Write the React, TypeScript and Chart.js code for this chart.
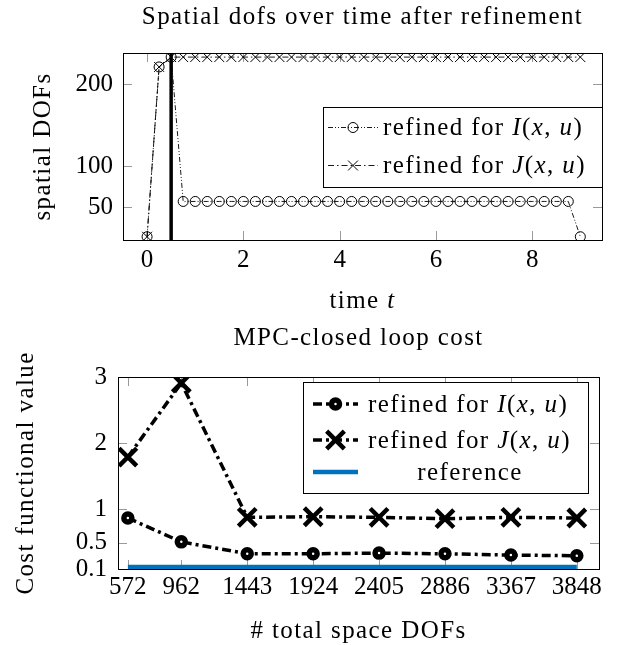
import React, { useEffect, useRef } from 'react';
import { Chart, registerables } from 'chart.js';
Chart.register(...registerables);

// ---------- data: top chart ----------
const timeValues = [
  0, 0.25, 0.5, 0.75, 1, 1.25, 1.5, 1.75, 2, 2.25, 2.5, 2.75, 3, 3.25, 3.5, 3.75,
  4, 4.25, 4.5, 4.75, 5, 5.25, 5.5, 5.75, 6, 6.25, 6.5, 6.75, 7, 7.25, 7.5, 7.75,
  8, 8.25, 8.5, 8.75, 9,
];
const dofsRefinedI = [
  14, 221, 233, 57, 57, 57, 57, 57, 57, 57, 57, 57, 57, 57, 57, 57,
  57, 57, 57, 57, 57, 57, 57, 57, 57, 57, 57, 57, 57, 57, 57, 57,
  57, 57, 57, 57, 14,
];
const dofsRefinedJ = [
  14, 221, 233, 233, 233, 233, 233, 233, 233, 233, 233, 233, 233, 233, 233, 233,
  233, 233, 233, 233, 233, 233, 233, 233, 233, 233, 233, 233, 233, 233, 233, 233,
  233, 233, 233, 233, 233,
];
const refinementTime = 0.5;
const dofsAxisRange = [10, 238];
const timeAxisRange = [-0.5, 9.45];
const timeTicks = [0, 2, 4, 6, 8];
const dofsTicks = [50, 100, 200];

// ---------- data: bottom chart ----------
const totalDofs = [572, 962, 1443, 1924, 2405, 2886, 3367, 3848];
const costRefinedI = [0.87, 0.51, 0.33, 0.33, 0.34, 0.33, 0.31, 0.30];
const costRefinedJ = [1.79, 2.91, 0.88, 0.89, 0.88, 0.86, 0.88, 0.87];
const costReference = [0.13, 0.13, 0.13, 0.13, 0.13, 0.13, 0.13, 0.13];
const costTicks = [0.1, 0.5, 1, 2, 3];
const costAxisRange = [0.1, 3];
const dofsXAxisRange = [500, 4010];

// ---------- text helpers ----------
const FAMILY = "'Liberation Serif', 'Times New Roman', serif";
const FS = 25;
const SPACING = '1.4px';
type Seg = { t: string; i?: boolean };

function fontOf(italic?: boolean) {
  return `${italic ? 'italic ' : ''}${FS}px ${FAMILY}`;
}

function segWidth(ctx: CanvasRenderingContext2D, segs: Seg[]) {
  let w = 0;
  for (const s of segs) {
    ctx.font = fontOf(s.i);
    (ctx as any).letterSpacing = SPACING;
    w += ctx.measureText(s.t).width;
  }
  return w;
}

function drawSegs(
  ctx: CanvasRenderingContext2D,
  segs: Seg[],
  x: number,
  y: number,
  align: 'left' | 'center',
  rotate = false
) {
  ctx.save();
  ctx.translate(x, y);
  if (rotate) ctx.rotate(-Math.PI / 2);
  const w = segWidth(ctx, segs);
  let cx = align === 'center' ? -w / 2 : 0;
  ctx.fillStyle = '#000';
  ctx.textAlign = 'left';
  ctx.textBaseline = 'alphabetic';
  for (const s of segs) {
    ctx.font = fontOf(s.i);
    (ctx as any).letterSpacing = SPACING;
    ctx.fillText(s.t, cx, 0);
    cx += ctx.measureText(s.t).width;
  }
  ctx.restore();
}

function drawMarker(
  ctx: CanvasRenderingContext2D,
  style: string,
  x: number,
  y: number,
  r: number,
  lw: number,
  fill?: string
) {
  ctx.save();
  ctx.setLineDash([]);
  ctx.lineWidth = lw;
  ctx.strokeStyle = '#000';
  if (style === 'circle') {
    ctx.beginPath();
    ctx.arc(x, y, r, 0, Math.PI * 2);
    if (fill) {
      ctx.fillStyle = fill;
      ctx.fill();
    }
    ctx.stroke();
  } else {
    const d = r * Math.SQRT1_2;
    ctx.beginPath();
    ctx.moveTo(x - d, y - d);
    ctx.lineTo(x + d, y + d);
    ctx.moveTo(x + d, y - d);
    ctx.lineTo(x - d, y + d);
    ctx.stroke();
  }
  ctx.restore();
}

function drawAxisTicks(chart: any, len: number) {
  const { ctx, chartArea } = chart;
  const xs = chart.scales.x;
  const ys = chart.scales.y;
  ctx.save();
  ctx.strokeStyle = '#9a9a9a';
  ctx.lineWidth = 1;
  ctx.setLineDash([]);
  ctx.beginPath();
  for (const t of xs.ticks) {
    const p = Math.round(xs.getPixelForValue(t.value)) + 0.5;
    ctx.moveTo(p, chartArea.bottom);
    ctx.lineTo(p, chartArea.bottom - len);
    ctx.moveTo(p, chartArea.top);
    ctx.lineTo(p, chartArea.top + len);
  }
  for (const t of ys.ticks) {
    const p = Math.round(ys.getPixelForValue(t.value)) + 0.5;
    ctx.moveTo(chartArea.left, p);
    ctx.lineTo(chartArea.left + len, p);
    ctx.moveTo(chartArea.right, p);
    ctx.lineTo(chartArea.right - len, p);
  }
  ctx.stroke();
  ctx.restore();
}

function drawFrame(chart: any) {
  const { ctx, chartArea } = chart;
  ctx.save();
  ctx.strokeStyle = '#000';
  ctx.lineWidth = 1;
  ctx.setLineDash([]);
  ctx.strokeRect(
    Math.round(chartArea.left) + 0.5,
    Math.round(chartArea.top) + 0.5,
    Math.round(chartArea.right - chartArea.left),
    Math.round(chartArea.bottom - chartArea.top)
  );
  ctx.restore();
}

const labelI: Seg[] = [
  { t: 'refined for ' },
  { t: 'I', i: true },
  { t: '(' },
  { t: 'x', i: true },
  { t: ', ' },
  { t: 'u', i: true },
  { t: ')' },
];
const labelJ: Seg[] = [
  { t: 'refined for ' },
  { t: 'J', i: true },
  { t: '(' },
  { t: 'x', i: true },
  { t: ', ' },
  { t: 'u', i: true },
  { t: ')' },
];

const tickFont = { family: FAMILY, size: FS };

// ---------- top chart ----------
function TopChart() {
  const ref = useRef<HTMLCanvasElement | null>(null);
  useEffect(() => {
    if (!ref.current) return;
    const deco = {
      id: 'decoTop',
      beforeDatasetsDraw(chart: any) {
        drawAxisTicks(chart, 9);
      },
      afterDatasetsDraw(chart: any) {
        const { ctx, chartArea } = chart;
        drawFrame(chart);
        // legend
        const bx = 323, by = 107, br = chartArea.right, bb = 187;
        ctx.save();
        ctx.fillStyle = '#fff';
        ctx.fillRect(bx, by, br - bx, bb - by);
        ctx.strokeStyle = '#000';
        ctx.lineWidth = 1;
        ctx.strokeRect(bx + 0.5, by + 0.5, br - bx, bb - by);
        const rows = [
          { y: 127, ds: chart.data.datasets[0], segs: labelI },
          { y: 165, ds: chart.data.datasets[1], segs: labelJ },
        ];
        for (const r of rows) {
          ctx.save();
          ctx.strokeStyle = '#000';
          ctx.lineWidth = r.ds.borderWidth;
          ctx.setLineDash(r.ds.borderDash);
          ctx.beginPath();
          ctx.moveTo(328, r.y + 0.5);
          ctx.lineTo(378, r.y + 0.5);
          ctx.stroke();
          ctx.restore();
          drawMarker(ctx, r.ds.pointStyle, 353, r.y + 0.5, r.ds.pointRadius, r.ds.pointBorderWidth);
          drawSegs(ctx, r.segs, 383, r.y + 8, 'left');
        }
        ctx.restore();
        const cx = (chartArea.left + chartArea.right) / 2;
        drawSegs(ctx, [{ t: 'Spatial dofs over time after refinement' }], cx, 24, 'center');
        drawSegs(ctx, [{ t: 'time ' }, { t: 't', i: true }], cx, 308, 'center');
        drawSegs(ctx, [{ t: 'spatial DOFs' }], 50, (chartArea.top + chartArea.bottom) / 2, 'center', true);
      },
    };
    const chart = new Chart(ref.current, {
      type: 'line',
      data: {
        datasets: [
          {
            label: 'refined for I(x,u)',
            data: timeValues.map((t, k) => ({ x: t, y: dofsRefinedI[k] })),
            borderColor: '#000',
            borderWidth: 0.9,
            borderDash: [5, 2, 1, 2, 1, 2],
            pointStyle: 'circle',
            pointRadius: 5,
            pointBorderWidth: 1,
            pointBorderColor: '#000',
            pointBackgroundColor: 'rgba(0,0,0,0)',
            tension: 0,
          },
          {
            label: 'refined for J(x,u)',
            data: timeValues.map((t, k) => ({ x: t, y: dofsRefinedJ[k] })),
            borderColor: '#000',
            borderWidth: 0.9,
            borderDash: [6, 3, 1.5, 3],
            pointStyle: 'crossRot',
            pointRadius: 7,
            pointBorderWidth: 1,
            pointBorderColor: '#000',
            pointBackgroundColor: 'rgba(0,0,0,0)',
            tension: 0,
          },
          {
            label: 'refinement',
            data: [
              { x: refinementTime, y: dofsAxisRange[0] },
              { x: refinementTime, y: dofsAxisRange[1] },
            ],
            borderColor: '#000',
            borderWidth: 3.5,
            pointRadius: 0,
          },
        ],
      },
      options: {
        responsive: false,
        animation: false,
        layout: { padding: { top: 53, right: 16, left: 0, bottom: 0 } },
        plugins: { legend: { display: false }, tooltip: { enabled: false } },
        scales: {
          x: {
            type: 'linear',
            min: timeAxisRange[0],
            max: timeAxisRange[1],
            afterBuildTicks: (s: any) => {
              s.ticks = timeTicks.map((v) => ({ value: v }));
            },
            afterFit: (s: any) => {
              s.height = 80;
            },
            grid: { display: false, drawTicks: false },
            border: { display: false },
            ticks: { font: tickFont, color: '#000', padding: 5, maxRotation: 0, callback: (v: any) => String(v) },
          },
          y: {
            type: 'linear',
            min: dofsAxisRange[0],
            max: dofsAxisRange[1],
            afterBuildTicks: (s: any) => {
              s.ticks = dofsTicks.map((v) => ({ value: v }));
            },
            afterFit: (s: any) => {
              s.width = 123;
            },
            grid: { display: false, drawTicks: false },
            border: { display: false },
            ticks: { font: tickFont, color: '#000', padding: 10, callback: (v: any) => String(v) },
          },
        },
      },
      plugins: [deco],
    } as any);
    return () => chart.destroy();
  }, []);
  return (
    <div style={{ position: 'absolute', left: 0, top: 0, width: 618, height: 320 }}>
      <canvas ref={ref} width={618} height={320} />
    </div>
  );
}

// ---------- bottom chart ----------
function BottomChart() {
  const ref = useRef<HTMLCanvasElement | null>(null);
  useEffect(() => {
    if (!ref.current) return;
    const deco = {
      id: 'decoBottom',
      beforeDatasetsDraw(chart: any) {
        drawAxisTicks(chart, 9);
      },
      afterDatasetsDraw(chart: any) {
        const { ctx, chartArea } = chart;
        drawFrame(chart);
        const bx = 303, by = 62, br = 588, bb = 173;
        ctx.save();
        ctx.fillStyle = '#fff';
        ctx.fillRect(bx, by, br - bx, bb - by);
        ctx.strokeStyle = '#000';
        ctx.lineWidth = 1;
        ctx.strokeRect(bx + 0.5, by + 0.5, br - bx, bb - by);
        const rows = [
          { y: 84, ds: chart.data.datasets[0], segs: labelI },
          { y: 120, ds: chart.data.datasets[1], segs: labelJ },
        ];
        for (const r of rows) {
          ctx.save();
          ctx.strokeStyle = '#000';
          ctx.lineWidth = r.ds.borderWidth;
          ctx.setLineDash(r.ds.borderDash);
          ctx.beginPath();
          ctx.moveTo(313, r.y);
          ctx.lineTo(358, r.y);
          ctx.stroke();
          ctx.restore();
          drawMarker(ctx, r.ds.pointStyle, 335.5, r.y, r.ds.pointRadius, r.ds.pointBorderWidth, r.ds.pointBackgroundColor);
          drawSegs(ctx, r.segs, 368, r.y + 8, 'left');
        }
        const refDs = chart.data.datasets[2];
        ctx.save();
        ctx.strokeStyle = refDs.borderColor;
        ctx.lineWidth = refDs.borderWidth;
        ctx.beginPath();
        ctx.moveTo(313, 152);
        ctx.lineTo(358, 152);
        ctx.stroke();
        ctx.restore();
        drawSegs(ctx, [{ t: 'reference' }], 470, 160, 'center');
        ctx.restore();
        const cx = (chartArea.left + chartArea.right) / 2;
        drawSegs(ctx, [{ t: 'MPC-closed loop cost' }], cx, 25, 'center');
        drawSegs(ctx, [{ t: '# total space DOFs' }], cx, 318, 'center');
        drawSegs(ctx, [{ t: 'Cost functional value' }], 33, (chartArea.top + chartArea.bottom) / 2, 'center', true);
      },
    };
    const chart = new Chart(ref.current, {
      type: 'line',
      data: {
        datasets: [
          {
            label: 'refined for I(x,u)',
            data: totalDofs.map((d, k) => ({ x: d, y: costRefinedI[k] })),
            borderColor: '#000',
            borderWidth: 3.5,
            borderDash: [9, 4, 3, 4],
            pointStyle: 'circle',
            pointRadius: 4,
            pointBorderWidth: 5.5,
            pointBorderColor: '#000',
            pointBackgroundColor: '#fff',
            tension: 0,
          },
          {
            label: 'refined for J(x,u)',
            data: totalDofs.map((d, k) => ({ x: d, y: costRefinedJ[k] })),
            borderColor: '#000',
            borderWidth: 3.5,
            borderDash: [9, 4, 3, 4],
            pointStyle: 'crossRot',
            pointRadius: 12.5,
            pointBorderWidth: 4.5,
            pointBorderColor: '#000',
            pointBackgroundColor: '#fff',
            tension: 0,
          },
          {
            label: 'reference',
            data: totalDofs.map((d, k) => ({ x: d, y: costReference[k] })),
            borderColor: '#0072BD',
            borderWidth: 4.5,
            pointRadius: 0,
            tension: 0,
          },
        ],
      },
      options: {
        responsive: false,
        animation: false,
        layout: { padding: { top: 57, right: 19, left: 0, bottom: 0 } },
        plugins: { legend: { display: false }, tooltip: { enabled: false } },
        scales: {
          x: {
            type: 'linear',
            min: dofsXAxisRange[0],
            max: dofsXAxisRange[1],
            afterBuildTicks: (s: any) => {
              s.ticks = totalDofs.map((v) => ({ value: v }));
            },
            afterFit: (s: any) => {
              s.height = 76;
            },
            grid: { display: false, drawTicks: false },
            border: { display: false },
            ticks: { font: tickFont, color: '#000', padding: 3, maxRotation: 0, autoSkip: false, callback: (v: any) => String(v) },
          },
          y: {
            type: 'linear',
            min: costAxisRange[0],
            max: costAxisRange[1],
            afterBuildTicks: (s: any) => {
              s.ticks = costTicks.map((v) => ({ value: v }));
            },
            afterFit: (s: any) => {
              s.width = 118;
            },
            grid: { display: false, drawTicks: false },
            border: { display: false },
            ticks: { font: tickFont, color: '#000', padding: 11, callback: (v: any) => String(v) },
          },
        },
      },
      plugins: [deco],
    } as any);
    return () => chart.destroy();
  }, []);
  return (
    <div style={{ position: 'absolute', left: 0, top: 320, width: 618, height: 325 }}>
      <canvas ref={ref} width={618} height={325} />
    </div>
  );
}

export default function App() {
  return (
    <div style={{ position: 'absolute', left: 0, top: 0, width: 618, height: 645, background: '#fff' }}>
      <TopChart />
      <BottomChart />
    </div>
  );
}
